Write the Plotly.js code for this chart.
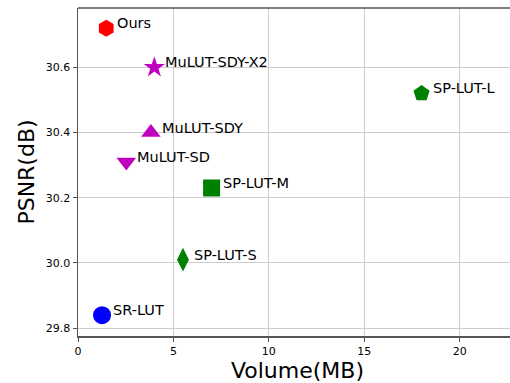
<!DOCTYPE html>
<html>
<head>
<meta charset="utf-8">
<script src="https://cdn.plot.ly/plotly-3.0.1.min.js"></script>
<style>
html,body{margin:0;padding:0;overflow:hidden;background:#fff;}
#chart{width:518px;height:383px;}
</style>
</head>
<body>
<div id="chart"></div>
<script>
// Data
const methods = ["Ours", "MuLUT-SDY-X2", "MuLUT-SDY", "MuLUT-SD", "SP-LUT-M", "SP-LUT-L", "SP-LUT-S", "SR-LUT"];
const volumeMB = [1.48, 4.0, 3.82, 2.53, 7.0, 18.0, 5.5, 1.26];
const psnrDB = [30.72, 30.60, 30.40, 30.31, 30.23, 30.52, 30.01, 29.84];
const symbols = ["hexagon", "star", "triangle-up", "triangle-down", "square", "pentagon", "diamond-tall", "circle"];
const colors = ["#ff0000", "#bf00bf", "#bf00bf", "#bf00bf", "#008000", "#008000", "#008000", "#0000ff"];
const sizes = [17, 16, 17, 17, 17, 17, 17, 18];
const xTicks = [0, 5, 10, 15, 20];
const yTicks = [29.8, 30.0, 30.2, 30.4, 30.6];

const FONT = "DejaVu Sans, Liberation Sans, sans-serif";

const traces = methods.map((m, i) => ({
  type: "scatter",
  mode: "markers",
  name: m,
  x: [volumeMB[i]],
  y: [psnrDB[i]],
  marker: {symbol: symbols[i], color: colors[i], size: sizes[i], line: {width: 0}},
  showlegend: false,
  hoverinfo: "x+y+name"
}));

const annotations = methods.map((m, i) => ({
  x: volumeMB[i], y: psnrDB[i], xref: "x", yref: "y",
  text: m, showarrow: false,
  xanchor: "left", yanchor: "middle",
  xshift: 9, yshift: 5,
  font: {family: FONT, size: 14.5, color: "#000"}
}));

const layout = {
  width: 518, height: 383,
  margin: {l: 78, r: 1, t: 8, b: 47},
  paper_bgcolor: "#fff", plot_bgcolor: "#fff",
  font: {family: FONT, color: "#000"},
  xaxis: {
    range: [0, 23.0],
    tickvals: xTicks,
    ticktext: xTicks.map(String),
    ticks: "outside", ticklen: 4, tickwidth: 1, tickcolor: "#555",
    showline: true, linecolor: "#555", linewidth: 1.5,
    showgrid: true, gridcolor: "#cccccc", gridwidth: 1,
    zeroline: false,
    tickfont: {family: FONT, size: 11, color: "#000"},
    title: {text: "Volume(MB)", font: {family: FONT, size: 22, color: "#000"}, standoff: 5}
  },
  yaxis: {
    range: [29.776, 30.782],
    tickvals: yTicks,
    ticktext: yTicks.map(v => v.toFixed(1)),
    ticks: "outside", ticklen: 4, tickwidth: 1, tickcolor: "#555",
    showline: true, linecolor: "#555", linewidth: 1.5,
    showgrid: true, gridcolor: "#cccccc", gridwidth: 1,
    zeroline: false,
    tickfont: {family: FONT, size: 11, color: "#000"},
    title: {text: "PSNR(dB)", font: {family: FONT, size: 22, color: "#000"}, standoff: 5}
  },
  shapes: [{type: "line", xref: "paper", yref: "paper", x0: 0, x1: 1, y0: 1, y1: 1, line: {color: "#000", width: 1}}],
  annotations: annotations
};

Plotly.newPlot("chart", traces, layout, {staticPlot: true, displayModeBar: false});
</script>
</body>
</html>
